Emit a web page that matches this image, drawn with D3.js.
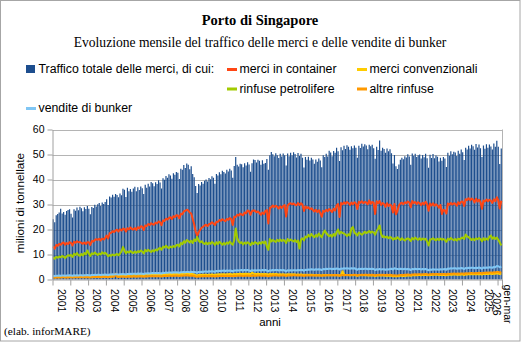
<!DOCTYPE html>
<html><head><meta charset="utf-8">
<script src="https://cdn.jsdelivr.net/npm/d3@7/dist/d3.min.js"></script>
<style>body{margin:0;background:#fff}svg{display:block}</style>
</head><body>
<svg id="chart" width="521" height="342"></svg>
<script>
const years = d3.range(2001, 2027).map(String);
const monthNames = ["gen","feb","mar","apr","mag","giu","lug","ago","set","ott","nov","dic"];
const tickLabels = ["2001","2002","2003","2004","2005","2006","2007","2008","2009","2010","2011","2012","2013","2014","2015","2016","2017","2018","2019","2020","2021","2022","2023","2024","2025","gen-mar 2026"];

// milioni di tonnellate, mensile gen 2001 - mar 2026
const totale = [
24.1,22.9,25.7,26.2,26.8,28.3,26.4,27.0,25.9,27.4,27.8,28.1,
26.3,24.8,28.1,27.5,28.8,27.7,29.1,28.5,27.3,28.9,28.2,29.4,
28.3,26.1,29.0,28.6,29.9,29.2,30.1,30.6,29.4,30.8,30.2,31.0,
32.1,29.8,33.2,32.8,33.9,33.1,34.2,33.8,32.9,34.4,33.7,36.3,
35.9,33.0,36.7,35.3,36.2,35.1,36.4,37.1,35.3,36.9,35.8,37.2,
36.5,34.2,37.9,36.7,38.3,37.2,39.0,38.5,37.3,38.9,38.2,39.7,
38.8,36.4,40.5,39.9,41.4,40.7,42.1,41.6,40.3,42.5,41.9,43.0,
42.7,40.2,44.3,43.9,45.8,44.6,46.4,45.9,44.1,45.3,42.2,40.9,
37.4,34.6,38.2,37.6,39.0,38.3,39.5,40.0,39.2,40.6,40.1,41.3,
40.7,38.3,42.2,41.6,42.9,42.1,43.5,43.0,42.4,43.9,43.2,44.3,
43.6,40.7,45.4,49.0,45.9,45.2,46.3,46.1,44.9,46.5,45.6,46.9,
46.0,43.1,46.5,48.0,47.8,46.8,47.9,47.5,45.9,47.7,46.3,46.6,
48.2,43.9,49.7,51.0,50.1,49.3,50.5,49.7,48.6,50.3,49.2,50.4,
49.7,45.6,50.4,49.3,50.7,49.6,50.9,50.2,48.8,50.6,49.4,50.3,
48.7,44.8,49.0,47.9,49.1,47.6,48.7,48.0,46.3,48.0,47.1,48.4,
47.6,44.9,49.7,49.0,50.3,49.2,51.5,50.8,49.3,51.4,50.7,52.7,
51.3,47.4,52.9,51.7,53.5,52.2,53.7,53.1,51.9,53.3,52.5,53.6,
52.7,48.7,53.5,52.6,54.3,53.2,54.1,53.6,52.1,53.9,53.3,53.9,
52.5,48.3,53.1,51.8,55.6,51.5,52.7,52.2,50.7,52.4,51.3,52.1,
50.5,46.4,49.8,45.3,44.2,46.0,47.9,48.7,48.1,49.3,48.8,50.1,
49.2,45.9,50.4,49.5,50.3,49.0,49.7,50.0,48.4,49.8,48.9,50.3,
48.5,44.7,49.9,48.6,50.2,48.5,49.6,49.1,47.2,48.7,47.5,49.0,
48.4,45.0,50.7,49.5,51.3,50.1,51.1,50.8,49.4,51.5,50.3,52.0,
50.9,47.8,52.7,52.0,53.5,52.4,53.9,53.3,51.9,54.2,52.8,54.0,
52.5,49.0,53.6,52.3,54.1,52.7,54.0,53.2,52.0,54.4,53.1,55.5,
53.1,46.2,52.4];

const container = [
13.2,12.3,13.8,13.5,14.2,13.9,14.5,14.8,13.9,14.6,14.2,14.9,
14.6,13.6,15.1,14.7,15.3,14.9,15.0,14.6,14.3,14.8,14.2,14.9,
14.9,13.8,15.4,15.2,15.8,16.1,15.9,16.3,15.6,16.4,16.0,16.6,
17.6,16.4,18.5,18.7,19.3,19.0,19.6,19.9,19.2,20.1,19.6,20.3,
20.3,19.2,20.5,20.1,20.8,20.2,20.0,20.6,19.8,20.9,20.4,21.3,
21.1,19.8,21.6,21.4,22.2,21.8,22.5,22.1,21.9,22.8,22.4,23.2,
22.9,21.7,23.6,23.4,24.3,24.0,24.6,24.9,24.2,25.3,25.0,25.7,
25.6,24.5,26.3,26.1,27.2,27.5,27.9,27.6,26.8,26.4,24.2,22.1,
19.2,17.5,18.9,19.8,20.7,21.1,21.6,21.9,21.4,22.1,22.3,22.9,
22.4,21.8,23.1,23.0,23.8,23.5,24.1,23.7,23.3,24.2,23.9,24.6,
24.2,21.8,25.1,25.0,25.9,25.6,26.3,26.0,25.7,26.8,26.5,27.6,
27.3,25.9,27.4,27.6,27.5,26.9,27.2,26.6,25.9,26.8,26.2,27.4,
27.8,22.4,28.6,28.9,29.6,29.0,29.5,29.1,28.4,29.3,28.6,29.4,
29.8,25.2,29.6,30.2,30.5,30.1,30.4,29.9,29.7,30.6,29.8,30.5,
29.9,27.4,29.2,28.6,28.9,28.1,28.5,27.8,27.2,27.9,27.0,27.7,
26.6,25.1,27.5,27.1,27.9,27.3,28.2,27.6,27.0,28.3,27.6,29.6,
30.2,25.0,30.6,30.1,30.9,30.3,31.0,30.6,29.8,30.8,30.1,30.9,
30.4,28.2,31.1,30.7,31.3,30.5,31.0,30.8,30.1,31.6,30.3,31.0,
30.7,26.2,31.3,30.5,31.4,29.8,30.6,30.2,29.1,30.5,29.4,30.0,
29.5,26.8,30.2,26.1,27.4,29.6,30.4,30.7,30.1,30.9,30.5,31.2,
30.8,28.9,31.4,30.6,31.0,30.2,30.9,30.5,29.8,30.7,30.0,31.1,
30.2,27.5,30.4,29.6,30.5,29.5,30.1,29.6,28.7,29.8,26.2,27.9,
27.6,26.4,30.4,29.9,30.6,30.0,30.5,30.3,29.5,30.9,30.2,31.1,
31.2,29.4,32.1,31.8,32.5,31.7,32.4,32.0,30.8,32.3,31.2,31.9,
31.0,28.3,31.6,31.2,32.0,31.3,31.9,31.5,30.6,32.1,31.3,32.9,
31.6,28.4,31.5];

const convenzionali = [
1.3,1.2,1.4,1.3,1.3,1.4,1.3,1.4,1.3,1.4,1.3,1.4,
1.4,1.3,1.4,1.4,1.5,1.4,1.5,1.4,1.4,1.5,1.4,1.5,
1.4,1.3,1.5,1.4,1.5,1.5,1.6,1.5,1.5,1.6,1.5,1.6,
1.6,1.5,1.7,1.6,1.7,1.7,1.8,1.7,1.7,1.8,1.8,1.9,
1.8,1.7,1.9,1.8,1.9,1.9,2.0,1.9,1.9,2.0,1.9,2.0,
1.9,1.8,2.0,2.0,2.1,2.0,2.1,2.1,2.0,2.1,2.0,2.1,
2.0,1.9,2.1,2.1,2.2,2.1,2.2,2.2,2.1,2.2,2.1,2.2,
2.2,2.0,2.3,2.2,2.3,2.3,2.4,2.3,2.2,2.3,2.1,2.0,
1.7,1.6,1.8,1.8,1.9,1.8,1.9,1.9,1.8,1.9,1.9,2.0,
1.9,1.8,2.0,2.0,2.1,2.0,2.1,2.1,2.0,2.1,2.1,2.2,
2.1,1.9,2.2,2.1,2.2,2.2,2.3,2.2,2.2,2.3,2.2,2.3,
2.2,2.1,2.9,2.3,2.2,2.2,2.3,2.2,2.1,2.2,2.1,2.2,
2.1,1.9,2.2,2.1,2.2,2.1,2.2,2.1,2.0,2.1,2.0,2.1,
2.0,1.8,2.1,2.0,2.1,2.0,2.1,2.0,1.9,2.0,1.9,2.0,
1.9,1.7,1.9,1.8,1.9,1.8,1.9,1.8,1.7,1.8,1.7,1.8,
1.7,1.6,1.8,1.7,1.8,1.7,1.8,1.7,1.7,1.8,1.7,1.8,
1.7,1.6,1.8,3.3,1.9,1.8,1.8,1.7,1.7,1.8,1.7,1.8,
1.7,1.5,1.7,1.7,1.8,1.7,1.8,1.7,1.6,1.7,1.6,1.7,
1.6,1.4,1.6,1.6,1.7,1.6,1.6,1.6,1.5,1.6,1.5,1.6,
1.5,1.3,1.4,1.3,1.3,1.4,1.5,1.5,1.4,1.5,1.5,1.6,
1.6,1.5,1.7,1.7,1.8,1.7,1.8,1.8,1.7,1.8,1.8,1.9,
1.8,1.7,1.9,1.8,1.9,1.9,1.9,1.9,1.8,1.9,1.8,1.9,
1.8,1.7,1.9,1.9,2.0,1.9,2.0,2.0,1.9,2.0,1.9,2.0,
2.0,1.8,2.1,2.0,2.1,2.1,2.2,2.1,2.1,2.2,2.1,2.2,
2.1,2.0,2.2,2.2,2.3,2.2,2.3,2.3,2.2,2.4,2.3,2.4,
2.4,2.2,2.5];

const petrolifere = [
8.9,8.3,9.1,8.7,9.2,8.9,9.4,9.1,8.6,9.3,9.7,9.5,
9.8,9.0,10.3,9.8,10.6,9.7,9.5,10.2,9.6,10.6,10.1,11.6,
10.4,9.4,10.5,10.1,10.8,10.3,9.8,10.4,10.0,10.9,10.3,10.7,
10.1,9.3,9.8,9.5,10.0,9.6,9.9,10.2,9.7,10.4,11.2,13.0,
11.6,10.5,11.2,10.8,11.4,10.9,10.6,11.2,10.7,11.3,11.0,11.6,
11.2,10.4,11.8,11.3,11.9,11.4,11.0,11.7,11.2,12.0,11.6,12.3,
12.6,11.9,13.1,12.8,13.5,12.9,12.6,13.2,12.8,13.4,13.0,13.7,
13.9,13.2,14.6,14.1,15.3,14.7,15.8,15.4,14.8,15.5,14.6,16.0,
15.4,17.0,15.6,14.9,15.3,14.6,14.2,14.8,14.1,14.7,14.3,15.0,
14.6,13.8,14.9,14.2,15.1,14.5,13.9,14.6,14.0,14.8,14.3,15.2,
14.4,13.9,15.6,20.4,16.6,15.2,14.6,14.9,14.0,14.8,14.3,14.9,
14.5,13.7,14.8,14.2,15.0,14.6,14.1,14.9,14.3,15.1,14.5,15.2,
13.1,11.9,16.2,15.2,15.8,15.4,15.0,15.9,15.3,16.0,15.4,15.8,
15.5,14.6,16.2,15.4,16.0,15.6,15.2,15.8,15.0,15.6,12.4,15.9,
16.5,15.6,17.2,16.8,17.9,17.1,18.2,17.4,16.9,17.8,17.2,18.4,
17.6,16.9,18.4,19.6,18.6,17.9,17.3,17.8,17.1,18.2,17.5,18.9,
20.0,18.3,19.1,18.6,18.4,18.0,17.4,18.1,17.6,20.4,21.0,18.8,
18.2,17.6,18.8,18.4,17.9,18.4,19.1,18.6,18.9,19.4,18.7,19.2,
18.8,17.9,19.5,20.3,21.6,18.2,17.0,17.3,16.8,17.2,16.5,17.0,
16.7,15.9,16.5,16.2,16.9,16.3,15.8,16.5,16.0,15.6,16.2,16.4,
16.1,15.4,16.6,16.0,16.8,16.2,15.9,16.5,15.8,16.4,16.0,16.3,
15.2,13.6,15.9,16.1,16.5,16.0,15.7,16.3,15.8,16.4,15.9,16.2,
15.8,15.1,16.3,15.9,16.6,16.1,15.7,16.2,15.6,16.3,16.0,16.5,
16.8,16.2,18.0,17.2,16.9,16.4,15.8,16.3,15.7,16.5,16.1,16.6,
16.2,15.3,16.5,15.8,16.4,15.9,17.1,17.6,16.3,16.9,16.2,16.8,
15.9,14.8,13.6];

const altreRinfuse = [
0.8,0.7,0.8,0.8,0.9,0.8,0.9,0.9,0.8,0.9,0.8,0.9,
0.9,0.8,0.9,0.9,1.0,0.9,1.0,0.9,0.9,1.0,0.9,1.0,
0.9,0.8,1.0,0.9,1.0,1.0,1.0,1.0,0.9,1.0,1.0,1.1,
1.0,0.9,1.1,1.0,1.1,1.1,2.3,1.1,1.0,1.1,1.1,1.2,
1.1,1.0,1.2,1.1,1.2,1.1,1.2,1.2,1.1,1.2,1.2,1.3,
1.2,1.1,1.3,1.2,1.3,1.3,1.4,1.3,1.3,1.4,1.3,1.4,
1.3,1.2,1.4,1.4,1.5,1.4,1.5,1.5,1.4,1.5,1.5,1.6,
1.5,1.4,1.6,1.5,1.6,1.6,1.7,1.6,1.5,1.6,1.5,1.4,
1.2,1.1,1.3,1.2,1.3,1.3,1.4,1.3,1.3,1.4,1.3,1.4,
1.3,1.2,1.4,1.3,1.4,1.4,1.5,1.4,1.4,1.5,1.4,1.5,
1.4,1.3,1.5,1.4,1.5,1.5,1.6,1.5,1.4,1.5,1.5,1.6,
1.5,1.4,1.6,1.5,1.6,1.5,1.6,1.6,1.5,1.6,1.5,1.6,
1.5,1.3,1.6,1.5,1.6,1.6,1.7,1.6,1.5,1.6,1.6,1.7,
1.6,1.4,1.6,1.6,1.7,1.6,1.7,1.7,1.6,1.7,1.6,1.7,
1.6,1.4,1.7,1.6,1.7,1.6,1.7,1.6,1.6,1.7,1.6,1.7,
1.6,1.5,1.7,1.6,1.7,1.7,1.8,1.7,1.7,1.8,1.7,1.8,
1.7,1.5,1.8,1.7,1.8,1.7,1.8,1.8,1.7,1.8,1.8,1.9,
1.8,1.6,1.8,1.8,1.9,1.8,1.9,1.9,1.8,1.9,1.8,1.9,
1.8,1.6,1.8,1.8,1.9,1.8,1.9,1.8,1.8,1.9,1.8,1.9,
1.8,1.6,1.7,1.6,1.6,1.7,1.8,1.8,1.8,1.9,1.9,2.0,
1.9,1.8,2.0,2.0,2.1,2.0,2.1,2.1,2.0,2.1,2.1,2.2,
2.1,1.9,2.1,2.1,2.2,2.1,2.2,2.2,2.1,2.2,2.1,2.2,
2.2,2.0,2.3,2.2,2.3,2.3,2.4,2.3,2.3,2.4,2.3,2.4,
2.4,2.2,2.5,2.4,2.5,2.5,2.6,2.5,2.5,2.6,2.5,2.7,
2.6,2.4,2.7,2.6,2.8,2.7,2.8,2.8,2.7,2.9,2.8,3.0,
3.0,2.7,3.1];

const bunker = [
1.5,1.4,1.5,1.5,1.6,1.5,1.6,1.6,1.5,1.6,1.6,1.7,
1.6,1.5,1.7,1.6,1.7,1.6,1.7,1.7,1.6,1.7,1.7,1.8,
1.7,1.6,1.8,1.8,1.9,1.8,1.9,1.9,1.8,1.9,1.9,2.0,
1.9,1.8,2.0,2.0,2.1,2.0,2.1,2.1,2.0,2.1,2.1,2.2,
2.1,2.0,2.2,2.2,2.3,2.2,2.3,2.3,2.2,2.4,2.3,2.4,
2.3,2.2,2.4,2.4,2.5,2.4,2.5,2.6,2.5,2.6,2.5,2.6,
2.5,2.4,2.7,2.6,2.8,2.7,2.8,2.8,2.7,2.9,2.8,2.9,
2.8,2.7,2.9,2.9,3.0,2.9,3.0,3.0,2.9,3.1,3.0,3.0,
2.9,2.7,3.0,3.0,3.1,3.0,3.2,3.2,3.1,3.3,3.2,3.3,
3.2,3.1,3.4,3.3,3.5,3.4,3.5,3.6,3.4,3.6,3.5,3.6,
3.5,3.3,3.6,3.6,3.7,3.6,3.7,3.8,3.6,3.8,3.7,3.8,
3.6,3.4,3.7,3.6,3.7,3.6,3.7,3.7,3.6,3.8,3.7,3.8,
3.6,3.3,3.7,3.6,3.8,3.7,3.8,3.8,3.6,3.8,3.7,3.8,
3.6,3.3,3.7,3.6,3.7,3.6,3.7,3.7,3.6,3.8,3.7,3.8,
3.8,3.5,3.9,3.8,4.0,3.9,4.1,4.0,3.9,4.1,4.0,4.1,
4.0,3.8,4.2,4.1,4.3,4.2,4.3,4.3,4.1,4.3,4.2,4.4,
4.3,4.0,4.4,4.3,4.5,4.4,4.5,4.4,4.3,4.5,4.4,4.5,
4.2,3.9,4.3,4.2,4.3,4.2,4.3,4.3,4.1,4.3,4.2,4.3,
4.2,3.8,4.1,4.0,4.2,4.0,4.1,4.1,3.9,4.1,4.0,4.2,
4.3,4.0,4.5,4.3,4.2,4.1,4.3,4.2,4.1,4.3,4.1,4.2,
4.1,3.8,4.2,4.1,4.3,4.1,4.2,4.2,4.0,4.2,4.1,4.2,
4.0,3.7,4.0,3.9,4.1,4.0,4.0,4.0,3.9,4.1,4.0,4.1,
4.2,3.9,4.4,4.3,4.5,4.4,4.5,4.5,4.3,4.5,4.4,4.6,
4.5,4.2,4.6,4.5,4.7,4.6,4.7,4.7,4.5,4.7,4.6,4.8,
4.6,4.3,4.8,4.6,4.8,4.7,4.9,4.8,4.7,5.0,4.9,5.4,
5.3,4.9,5.2];

const yTicks = [0,10,20,30,40,50,60];

const categories = years.flatMap(y => monthNames.map(m => m + " " + y)).slice(0, totale.length);

const svg = d3.select("#chart");
const W = 521, H = 342;
const L = 52.5, R = 502, T = 129.5, B = 279.5;

svg.append("rect").attr("x",0.5).attr("y",0.5).attr("width",W-1.5).attr("height",H-1.5)
  .attr("fill","#fff").attr("stroke","#a6a6a6");

// titles
svg.append("text").attr("x",260).attr("y",25).attr("text-anchor","middle")
  .style("font-family","'Liberation Serif','Times New Roman',serif").style("font-weight","bold").style("font-size","14.5px")
  .text("Porto di Singapore");
svg.append("text").attr("x",260).attr("y",47).attr("text-anchor","middle")
  .style("font-family","'Liberation Serif','Times New Roman',serif").style("font-size","13.6px")
  .text("Evoluzione mensile del traffico delle merci e delle vendite di bunker");

const x = d3.scaleBand().domain(categories).range([L, R]).paddingInner(0.2).paddingOuter(0.1);
const xm = d3.scaleLinear().domain([0, totale.length]).range([L, R]);
const y = d3.scaleLinear().domain([0,60]).range([B, T]);

// gridlines
svg.append("g").selectAll("line").data(yTicks.filter(d=>d>0)).join("line")
  .attr("x1",L).attr("x2",R).attr("y1",d=>Math.round(y(d))+0.5).attr("y2",d=>Math.round(y(d))+0.5)
  .attr("stroke","#b4b4b4").attr("stroke-width",1);
svg.append("line").attr("x1",R+0.5).attr("x2",R+0.5).attr("y1",T).attr("y2",B).attr("stroke","#b4b4b4");

// bars
svg.append("g").selectAll("rect").data(totale).join("rect")
  .attr("x",(d,i)=>x(categories[i])).attr("width",x.bandwidth())
  .attr("y",d=>y(d)).attr("height",d=>y(0)-y(d))
  .attr("fill","#1d4e8e");

// lines
const line = d3.line().x((d,i)=>x(categories[i])+x.bandwidth()/2).y(d=>y(d));
const series = [
  {name:"merci in container", data:container, color:"#ff4614"},
  {name:"merci convenzionali", data:convenzionali, color:"#ffcc00"},
  {name:"rinfuse petrolifere", data:petrolifere, color:"#a2cb00"},
  {name:"altre rinfuse", data:altreRinfuse, color:"#ff9900"},
  {name:"vendite di bunker", data:bunker, color:"#80c6f4"}
];
series.forEach(s=>{
  svg.append("path").datum(s.data).attr("d",line).attr("fill","none")
    .attr("stroke",s.color).attr("stroke-width",2).attr("stroke-linejoin","round");
});

// y axis
const yAxis = svg.append("g").attr("transform",`translate(${L},0)`)
  .call(d3.axisLeft(y).tickValues(yTicks).tickSize(5).tickPadding(3).tickSizeOuter(0));
yAxis.select(".domain").attr("stroke","#a0a0a0");
yAxis.selectAll(".tick line").attr("stroke","#a0a0a0");
yAxis.selectAll("text").style("font-family","'Liberation Sans',Arial,sans-serif").style("font-size","10.5px").attr("fill","#000");

// x axis
const yearBounds = d3.range(0, 26).map(i=>i*12).concat([totale.length]);
const xAxis = svg.append("g").attr("transform",`translate(0,${B})`)
  .call(d3.axisBottom(xm).tickValues(yearBounds).tickSize(6).tickFormat("").tickSizeOuter(0));
xAxis.select(".domain").attr("stroke","#a0a0a0");
xAxis.selectAll(".tick line").attr("stroke","#a0a0a0");

const labelFont = "'Liberation Sans',Arial,sans-serif";
tickLabels.forEach((lab,i)=>{
  const start = i*12, end = Math.min((i+1)*12, totale.length);
  const cx = (xm(start)+xm(end))/2;
  if (lab.indexOf(" ")<0) {
    svg.append("text").attr("transform",`translate(${cx},289) rotate(90)`)
      .attr("dy","0.35em").attr("text-anchor","start")
      .style("font-family",labelFont).style("font-size","10.5px").text(lab);
  } else {
    const parts = lab.split(" ");
    const t = svg.append("text").attr("transform",`translate(${cx+1},304) rotate(90)`)
      .attr("text-anchor","middle").style("font-family",labelFont).style("font-size","10.5px");
    t.append("tspan").attr("x",0).attr("dy","-0.3em").text(parts[0]);
    t.append("tspan").attr("x",0).attr("dy","1.0em").text(parts[1]);
  }
});

svg.append("text").attr("x",270).attr("y",326).attr("text-anchor","middle")
  .style("font-family",labelFont).style("font-size","11.5px").text("anni");

svg.append("text").attr("transform","translate(24,203) rotate(-90)").attr("text-anchor","middle")
  .style("font-family",labelFont).style("font-size","11.8px").text("milioni di tonnellate");

svg.append("text").attr("x",4).attr("y",335)
  .style("font-family","'Liberation Serif','Times New Roman',serif").style("font-size","11.3px")
  .text("(elab. inforMARE)");

// legend
const legend = [
  {name:"Traffico totale delle merci, di cui:", color:"#1d4e8e", type:"rect", x:26, y:73},
  {name:"merci in container", color:"#ff4614", type:"line", x:227, y:73},
  {name:"merci convenzionali", color:"#ffcc00", type:"line", x:357, y:73},
  {name:"rinfuse petrolifere", color:"#a2cb00", type:"line", x:227, y:92.5},
  {name:"altre rinfuse", color:"#ff9900", type:"line", x:357, y:92.5},
  {name:"vendite di bunker", color:"#80c6f4", type:"line", x:26, y:112}
];
const lg = svg.append("g");
legend.forEach(d=>{
  if (d.type==="rect") {
    lg.append("rect").attr("x",d.x).attr("y",d.y-8).attr("width",9).attr("height",8).attr("fill",d.color);
  } else {
    lg.append("rect").attr("x",d.x).attr("y",d.y-5).attr("width",10).attr("height",3).attr("fill",d.color);
  }
  lg.append("text").attr("x",d.x+12.5).attr("y",d.y)
    .style("font-family",labelFont).style("font-size","12.3px").text(d.name);
});
</script>
</body></html>
